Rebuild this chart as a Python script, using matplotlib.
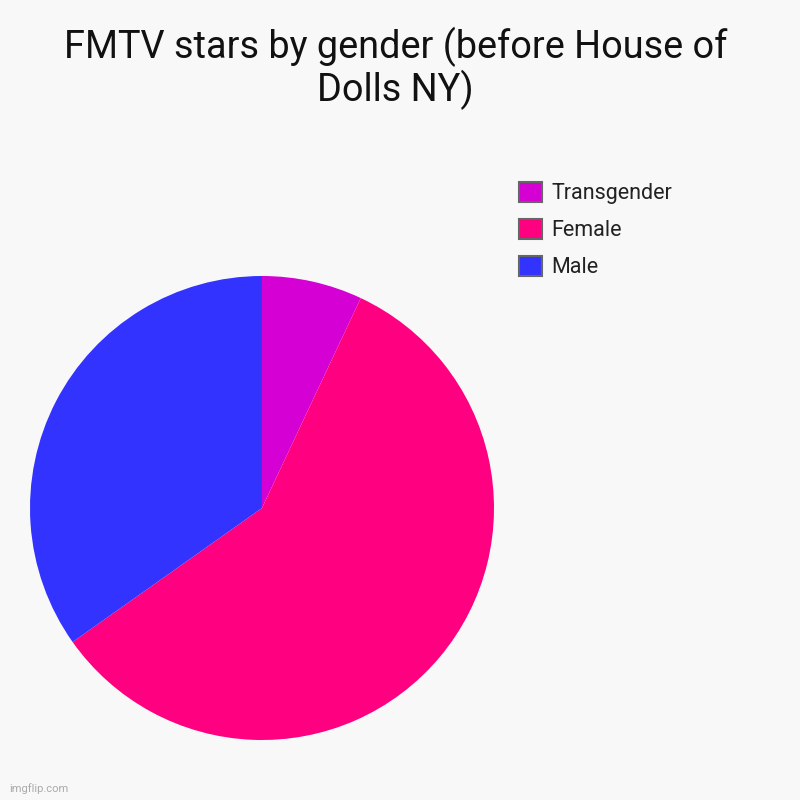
import matplotlib
matplotlib.use('Agg')
import matplotlib.pyplot as plt
from matplotlib.patches import Patch

plt.rcParams['font.family'] = ['Roboto', 'DejaVu Sans']

# data (clockwise from 12 o'clock)
labels = ['Transgender', 'Female', 'Male']
values = [7.0, 58.2, 34.8]
colors = ['#d400d4', '#ff0080', '#3333ff']

fig = plt.figure(figsize=(8, 8), dpi=100, facecolor='#f8f8f8')

fig.text(0.494, 0.967, 'FMTV stars by gender (before House of\nDolls NY)',
         ha='center', va='top', fontsize=27.3, color='#111111', linespacing=1.1)

ax = fig.add_axes([0.0375, 0.075, 0.58, 0.58])
ax.set_facecolor('#f8f8f8')
ax.pie(values, colors=colors, startangle=90, counterclock=False,
       wedgeprops=dict(linewidth=0))
ax.set_xlim(-1, 1)
ax.set_ylim(-1, 1)
ax.set_aspect('equal')

handles = [Patch(facecolor=c, edgecolor='#666666', linewidth=1.5) for c in colors]
leg = fig.legend(handles, labels, loc='upper left', bbox_to_anchor=(0.625, 0.797),
                 frameon=False, fontsize=15.5, handlelength=1.05, handleheight=1.05,
                 handletextpad=0.45, labelspacing=0.68)
for t in leg.get_texts():
    t.set_color('#222222')

fig.text(0.012, 0.008, 'imgflip.com', fontsize=8, color='#aaaaaa', ha='left', va='bottom')

plt.savefig('out.png', dpi=100, facecolor=fig.get_facecolor())
